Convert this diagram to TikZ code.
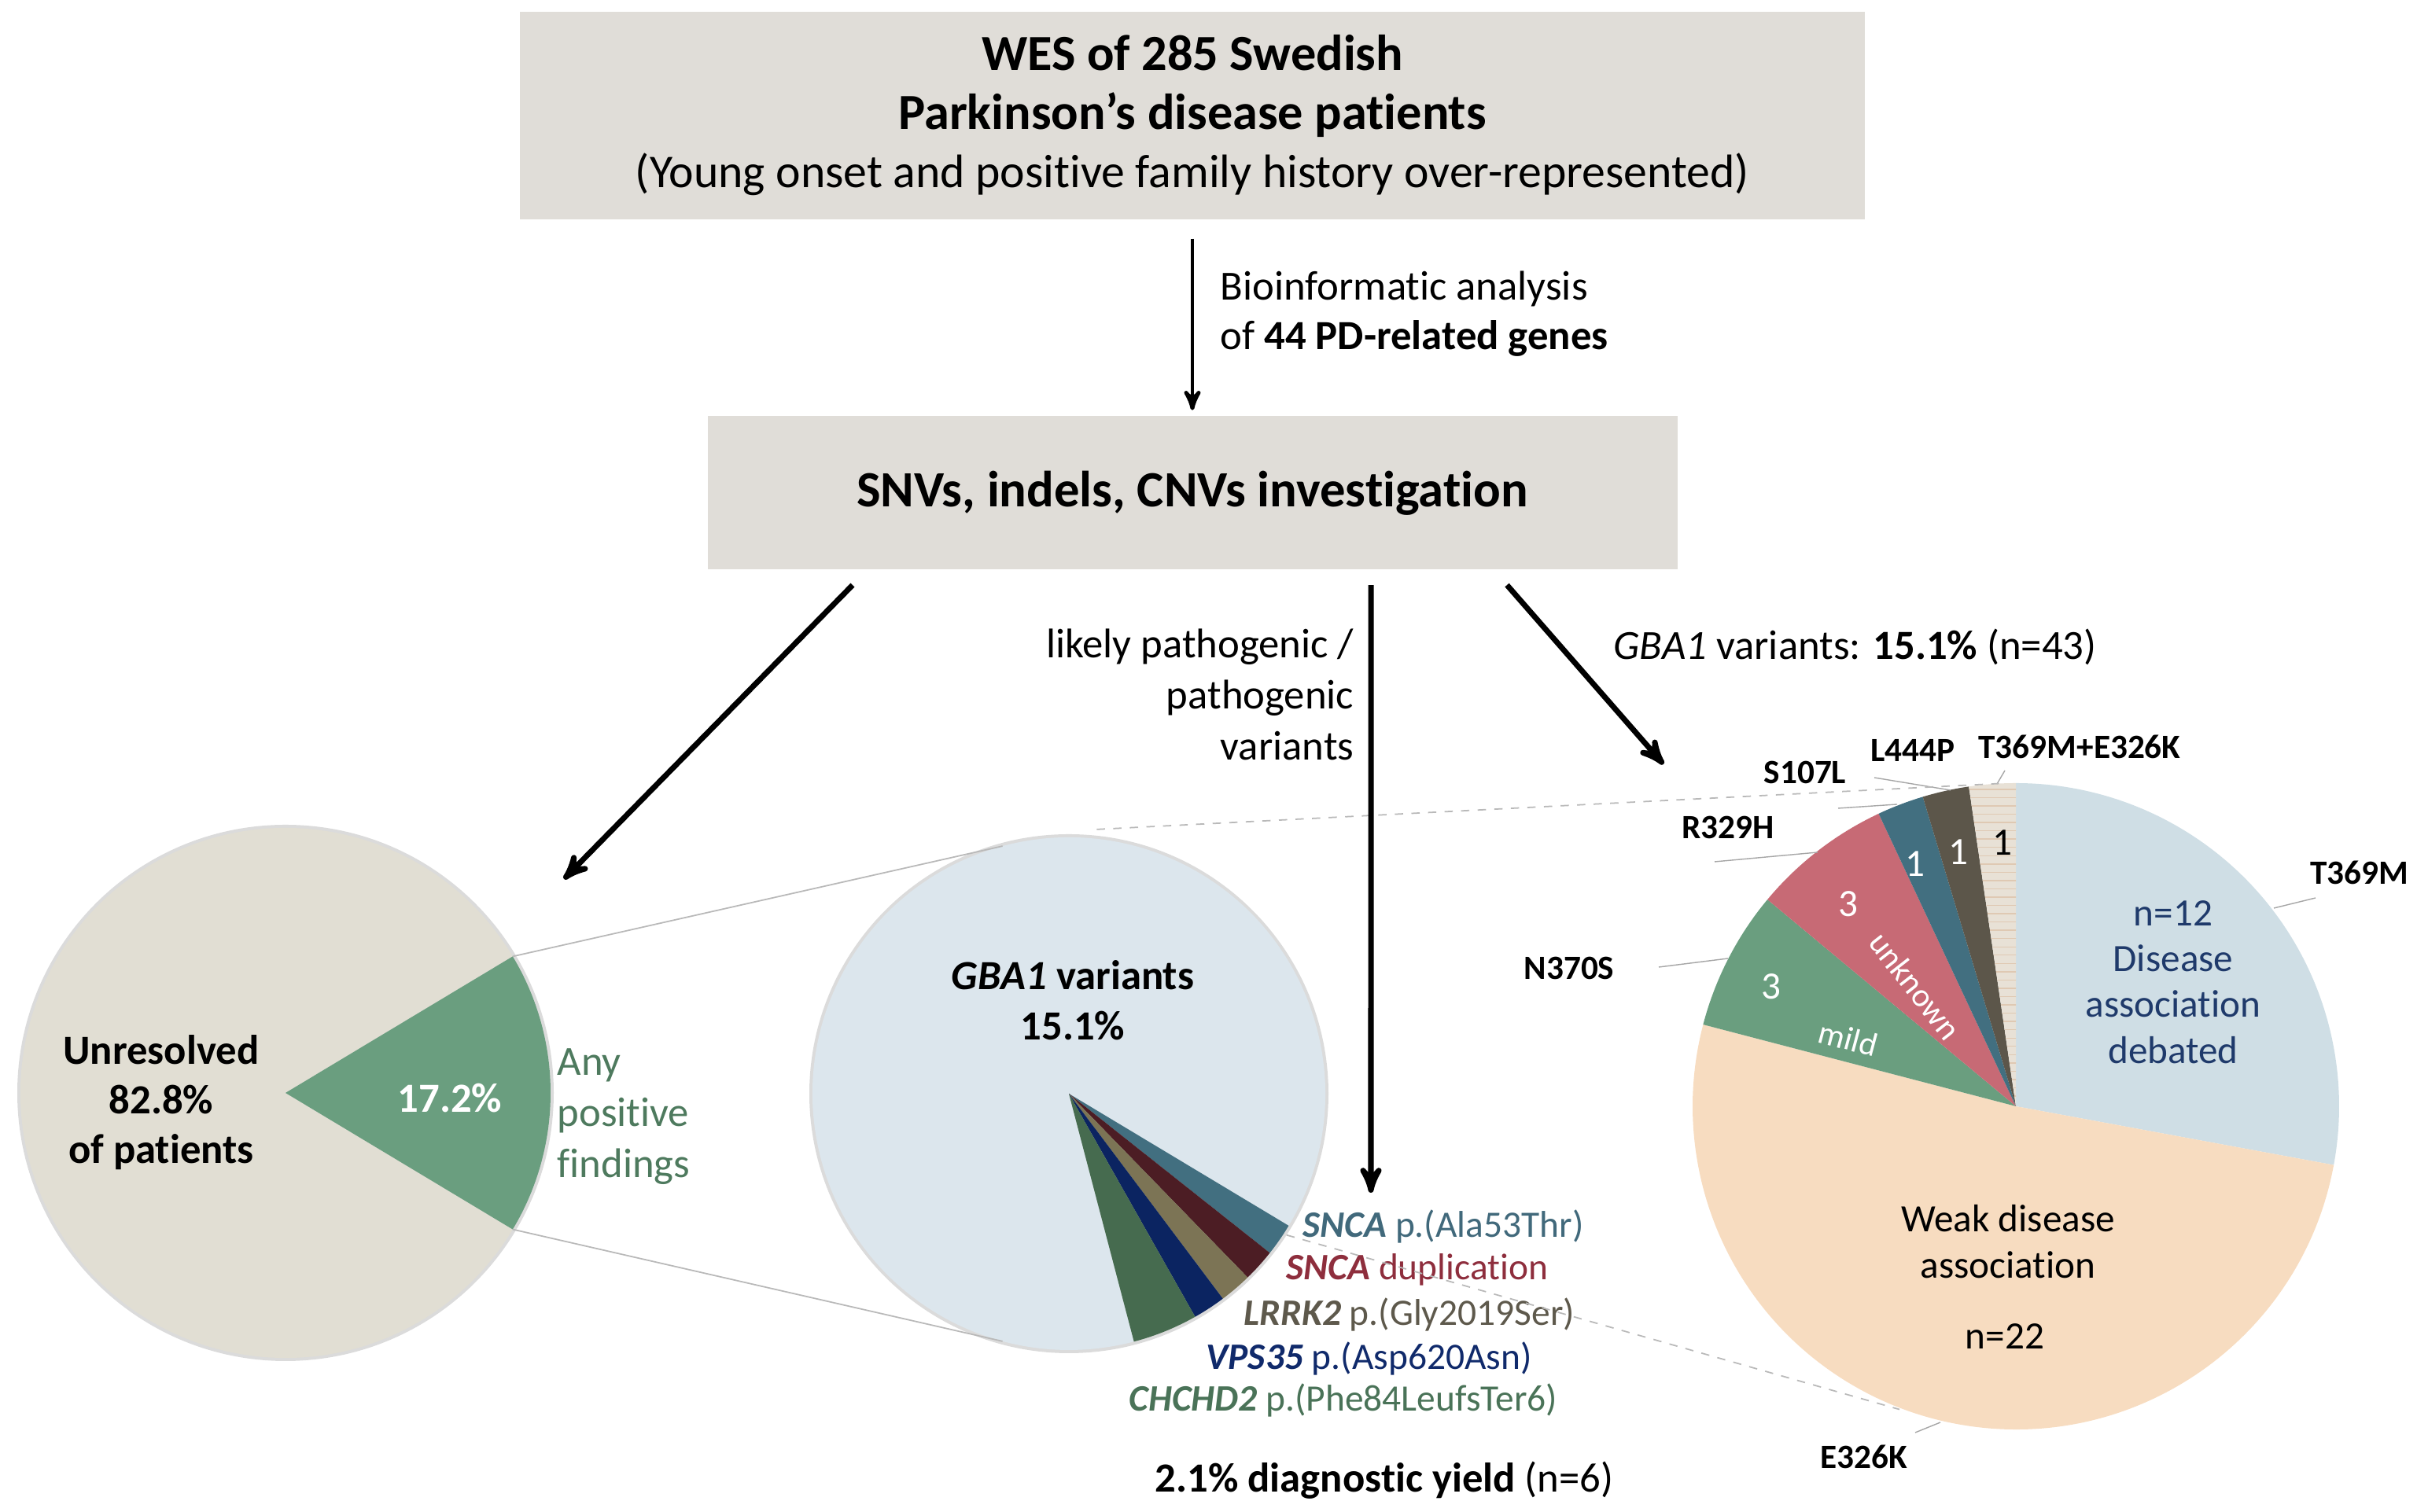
\documentclass[tikz,border=0pt]{standalone}
\usepackage{fontspec}
\setmainfont{Carlito}[Ligatures=NoCommon]
\usepackage{tikz}
\usetikzlibrary{arrows}
\usetikzlibrary{positioning,patterns}
\definecolor{boxgray}{HTML}{E0DDD8}
\definecolor{piebeige}{HTML}{E1DED3}
\definecolor{piegreen}{HTML}{6A9E7F}
\definecolor{txtgreen}{HTML}{4E7A5E}
\definecolor{pieblue}{HTML}{DCE6ED}
\definecolor{gbablue}{HTML}{CFDEE5}
\definecolor{peach}{HTML}{F7DCC0}
\definecolor{rose}{HTML}{C76A75}
\definecolor{teal}{HTML}{426F80}
\definecolor{brown}{HTML}{5C564A}
\definecolor{stripe}{HTML}{E8E1D6}
\definecolor{maroon}{HTML}{4C1D24}
\definecolor{olive}{HTML}{7C7455}
\definecolor{navy}{HTML}{0B2461}
\definecolor{dkgreen}{HTML}{466B4F}
\definecolor{txtteal}{HTML}{41697B}
\definecolor{txtred}{HTML}{8E2E3D}
\definecolor{txtbrown}{HTML}{5E594C}
\definecolor{txtnavy}{HTML}{102A6B}
\definecolor{txtdkgreen}{HTML}{4A7358}
\definecolor{debnavy}{HTML}{1F3A6B}
\tikzset{
    box/.style={
           rectangle,
           fill=boxgray,
           inner sep=0pt,
           align=center,
           text centered,
           },
    arr/.style={->, line width=2pt},
    lbl/.style={inner sep=0pt, font=\fontsize{15}{18}\selectfont},
    gene/.style={inner sep=0pt, anchor=west, font=\fontsize{13.5}{16}\selectfont},
    mut/.style={inner sep=0pt, font=\bfseries\fontsize{12.3}{14}\selectfont},
    num/.style={inner sep=0pt, font=\fontsize{14}{16}\selectfont},
    lead/.style={draw=gray!70, line width=0.4pt},
    zoomline/.style={draw=gray!55, line width=0.5pt},
}
% center, radius, start angle, end angle, fill
\newcommand{\pieslice}[5]{%
    \fill[#5] (#1) -- ++(#3:#2) arc[start angle=#3, end angle=#4, radius=#2] -- cycle;}

\begin{document}
\begin{tikzpicture}[>=stealth']
        \useasboundingbox (0,0) rectangle (30.73,19.23);

        % BOX WES
        \node[box,
            minimum width=17.10cm,
            minimum height=2.64cm,
            font=\fontsize{17}{21.2}\selectfont] (B_WES) at (15.16,17.76)
        {{\bfseries\fontsize{18.3}{21.2}\selectfont WES of 285 Swedish}\\
         {\bfseries\fontsize{18.3}{21.2}\selectfont Parkinson’s disease patients}\\
         (Young onset and positive family history over-represented)};

        % BOX INVESTIGATION
        \node[box,
            minimum width=12.33cm,
            minimum height=1.95cm,
            below=2.49cm of B_WES,
            font=\bfseries\fontsize{18.4}{20}\selectfont] (B_SNV)
        {SNVs, indels, CNVs investigation};

        \draw[arr, line width=1.4pt] ([yshift=-0.24cm]B_WES.south) -- ([yshift=0.07cm]B_SNV.north);
        \node[lbl, anchor=west, align=left,
            font=\fontsize{15}{17.9}\selectfont] (T_BIO) at (15.51,15.24)
        {Bioinformatic analysis\\of \textbf{44 PD-related genes}};

        % PIE ALL PATIENTS
        \coordinate (P_ALL) at (3.63,5.33);
        \fill[gray!28] (P_ALL) circle[radius=3.41];
        \pieslice{P_ALL}{3.37}{31}{329}{piebeige}
        \pieslice{P_ALL}{3.37}{-31}{31}{piegreen}
        \node[inner sep=0pt, align=center, font=\bfseries\fontsize{15}{18}\selectfont] (T_UNRES) at (2.05,5.21)
        {Unresolved\\82.8\%\\of patients};
        \node[inner sep=0pt, text=white, font=\bfseries\fontsize{15}{18}\selectfont] (T_POS) at (5.72,5.26) {17.2\%};
        \node[inner sep=0pt, anchor=west, align=left, text=txtgreen,
            font=\fontsize{15}{18.5}\selectfont] (T_ANY) at (7.08,5.03)
        {Any\\positive\\findings};

        % PIE POSITIVE FINDINGS
        \coordinate (P_POS) at (13.59,5.32);
        \fill[gray!28] (P_POS) circle[radius=3.30];
        \pieslice{P_POS}{3.26}{-31}{284.7}{pieblue}
        \pieslice{P_POS}{3.26}{-31}{-38.4}{teal}
        \pieslice{P_POS}{3.26}{-38.4}{-45.8}{maroon}
        \pieslice{P_POS}{3.26}{-45.8}{-53.1}{olive}
        \pieslice{P_POS}{3.26}{-53.1}{-60.5}{navy}
        \pieslice{P_POS}{3.26}{-60.5}{-75.3}{dkgreen}
        \node[inner sep=0pt, align=center, font=\bfseries\fontsize{15}{18.2}\selectfont] (T_GBA) at (13.64,6.51)
        {\textit{GBA1} variants\\15.1\%};

        % gene labels
        \node[gene, text=txtteal] (L_SNCA) at (16.56,3.63) {\textbf{\textit{SNCA}} p.(Ala53Thr)};
        \node[gene, text=txtred] (L_DUP) at (16.35,3.08) {\textbf{\textit{SNCA}} duplication};
        \node[gene, text=txtbrown] (L_LRRK) at (15.81,2.51) {\textbf{\textit{LRRK2}} p.(Gly2019Ser)};
        \node[gene, text=txtnavy] (L_VPS) at (15.33,1.95) {\textbf{\textit{VPS35}} p.(Asp620Asn)};
        \node[gene, text=txtdkgreen] (L_CHCHD) at (14.35,1.42) {\textbf{\textit{CHCHD2}} p.(Phe84LeufsTer6)};
        \node[lbl] (T_YIELD) at (17.6,0.40) {\textbf{2.1\% diagnostic yield} (n=6)};

        % PIE GBA1 VARIANTS
        \coordinate (P_GBA) at (25.63,5.16);
        \pieslice{P_GBA}{4.11}{90}{-10.47}{gbablue}
        \pieslice{P_GBA}{4.11}{-10.47}{-194.65}{peach}
        \pieslice{P_GBA}{4.11}{165.35}{140.23}{piegreen}
        \pieslice{P_GBA}{4.11}{140.23}{115.12}{rose}
        \pieslice{P_GBA}{4.11}{115.12}{106.74}{teal}
        \pieslice{P_GBA}{4.11}{106.74}{98.37}{brown}
        \pieslice{P_GBA}{4.11}{98.37}{90}{stripe}
        \fill[pattern=horizontal lines, pattern color=peach!80!gray] (P_GBA) -- ++(98.37:4.11) arc[start angle=98.37, end angle=90, radius=4.11] -- cycle;

        \node[num, text=debnavy, align=center, font=\fontsize{14}{16.6}\selectfont] (T_DEB) at (27.63,6.74)
        {n=12\\Disease\\association\\debated};
        \node[num, align=center, font=\fontsize{14}{16.6}\selectfont] (T_WEAK) at (25.53,3.44)
        {Weak disease\\association};
        \node[num] (T_N22) at (25.49,2.23) {n=22};
        \node[num, text=white] (N_N370S) at (22.52,6.68) {3};
        \node[num, text=white, rotate=-15, font=\fontsize{12}{14}\selectfont] (T_MILD) at (23.50,6.02) {mild};
        \node[num, text=white] (N_R329H) at (23.50,7.73) {3};
        \node[num, text=white, rotate=-52, font=\fontsize{12}{14}\selectfont] (T_UNK) at (24.35,6.69) {unknown};
        \node[num, text=white] (N_S107L) at (24.35,8.24) {1};
        \node[num, text=white] (N_L444P) at (24.90,8.39) {1};
        \node[num] (N_MIX) at (25.46,8.51) {1};

        % mutation labels
        \node[mut] (M_T369M) at (30.00,8.13) {T369M};
        \node[mut] (M_E326K) at (23.70,0.70) {E326K};
        \node[mut] (M_N370S) at (19.95,6.92) {N370S};
        \node[mut] (M_R329H) at (21.97,8.71) {R329H};
        \node[mut] (M_S107L) at (22.95,9.41) {S107L};
        \node[mut] (M_L444P) at (24.32,9.69) {L444P};
        \node[mut] (M_MIX) at (26.44,9.73) {T369M+E326K};
        \draw[lead] (28.91,7.68) -- (29.44,7.81);
        \draw[lead] (24.35,1.01) -- (24.67,1.14);
        \draw[lead] (21.09,6.93) -- (21.97,7.04);
        \draw[lead] (21.80,8.27) -- (23.11,8.39);
        \draw[lead] (23.37,8.95) -- (24.12,9.00);
        \draw[lead] (23.83,9.34) -- (24.80,9.18);
        \draw[lead] (25.49,9.43) -- (25.39,9.26);

        % zoom lines between the pies
        \draw[zoomline] ([shift={(31:3.37)}]P_ALL) -- ([shift={(105:3.26)}]P_POS);
        \draw[zoomline] ([shift={(-31:3.37)}]P_ALL) -- ([shift={(-105:3.26)}]P_POS);
        \draw[zoomline, dashed] ([shift={(84:3.38)}]P_POS) -- ([shift={(93:4.11)}]P_GBA);
        \draw[zoomline, dashed] ([shift={(-33:3.30)}]P_POS) -- ([shift={(-111:4.13)}]P_GBA);

        % arrows from the investigation box
        \coordinate (A_LEFT) at (7.17,8.05);
        \coordinate (A_MID) at (17.43,4.06);
        \coordinate (A_RIGHT) at (21.15,9.51);
        \draw[arr] ([xshift=-4.32cm,yshift=-0.19cm]B_SNV.south) -- (A_LEFT);
        \draw[arr] ([xshift=2.27cm,yshift=-0.19cm]B_SNV.south) -- (A_MID);
        \draw[arr] ([xshift=4.00cm,yshift=-0.19cm]B_SNV.south) -- (A_RIGHT);

        \node[lbl, anchor=east, align=right,
            font=\fontsize{15}{18.5}\selectfont] (T_PATH) at (17.22,10.40)
        {likely pathogenic /\\pathogenic\\variants};
        \node[lbl, anchor=west] (T_GBAVAR) at (20.51,11.00)
        {\textit{GBA1} variants: \textbf{15.1\%} (n=43)};

\end{tikzpicture}
\end{document}
